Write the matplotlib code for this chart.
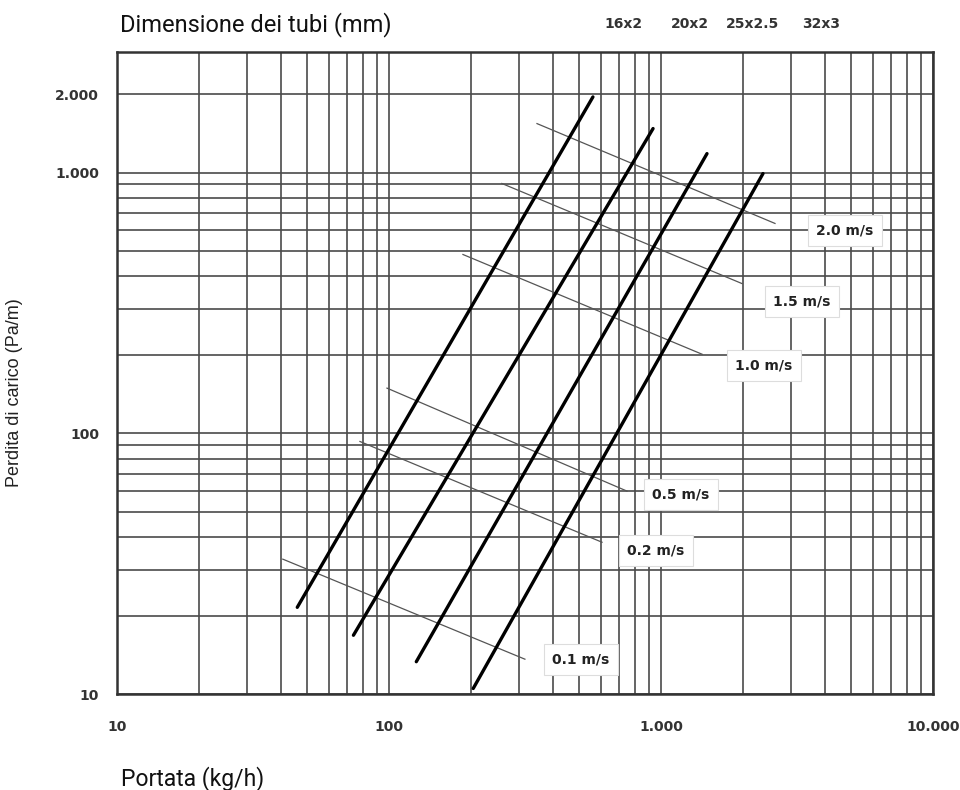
import matplotlib
matplotlib.use("Agg")
import matplotlib.pyplot as plt
from matplotlib.ticker import FuncFormatter, NullFormatter, LogLocator

# pipe curves: flow (kg/h) and pressure loss (Pa/m) at both ends
pipe_sizes = ["16x2", "20x2", "25x2.5", "32x3"]
pipe_flow_start = [46, 74, 126, 204]
pipe_loss_start = [21.5, 16.8, 13.3, 10.5]
pipe_flow_end = [562, 935, 1476, 2371]
pipe_loss_end = [1950, 1475, 1182, 991]
size_label_flow = [731, 1279, 2177, 3873]

# constant velocity lines
velocity_labels = ["0.1 m/s", "0.2 m/s", "0.5 m/s", "1.0 m/s", "1.5 m/s", "2.0 m/s"]
vel_flow_start = [40.7, 78.2, 98.3, 187, 260, 350]
vel_loss_start = [32.9, 93, 149, 485, 908, 1541]
vel_flow_end = [316, 607, 750, 1416, 1987, 2625]
vel_loss_end = [13.6, 38.2, 60, 201, 375, 638]
vel_label_flow = [508, 958, 1184, 2393, 3296, 4742]
vel_label_loss = [13.6, 35.6, 58.4, 182, 321, 600]

x_ticks = [10, 100, 1000, 10000]
y_ticks = [10, 100, 1000, 2000]


def it_thousands(v, pos=None):
    return f"{int(round(v)):,}".replace(",", ".")


fig = plt.figure(figsize=(9.6, 7.9), dpi=100)
ax = fig.add_axes([117 / 960, 1 - 694 / 790, 816 / 960, 642 / 790])

ax.set_xscale("log")
ax.set_yscale("log")
ax.set_xlim(10, 10000)
ax.set_ylim(10, 2900)

ax.xaxis.set_minor_locator(LogLocator(base=10, subs=range(2, 10), numticks=20))
ax.yaxis.set_minor_locator(LogLocator(base=10, subs=range(2, 10), numticks=20))
ax.set_xticks(x_ticks)
ax.set_yticks(y_ticks)
ax.xaxis.set_major_formatter(FuncFormatter(it_thousands))
ax.yaxis.set_major_formatter(FuncFormatter(it_thousands))
ax.xaxis.set_minor_formatter(NullFormatter())
ax.yaxis.set_minor_formatter(NullFormatter())
ax.tick_params(which="both", length=0)
ax.tick_params(axis="x", pad=19)
ax.tick_params(axis="y", pad=13)
for lab in ax.get_xticklabels() + ax.get_yticklabels():
    lab.set_fontweight("bold")
    lab.set_fontsize(10)
    lab.set_color("#333333")

ax.grid(True, which="both", color="#4a4a4a", lw=1.2)
ax.set_axisbelow(True)
for sp in ax.spines.values():
    sp.set_color("#333333")
    sp.set_linewidth(1.8)

for i in range(len(velocity_labels)):
    ax.plot([vel_flow_start[i], vel_flow_end[i]], [vel_loss_start[i], vel_loss_end[i]],
            color="#555555", lw=0.9, zorder=3)
    ax.text(vel_label_flow[i], vel_label_loss[i], velocity_labels[i],
            ha="center", va="center", fontsize=10, fontweight="bold", color="#222222",
            bbox=dict(boxstyle="square,pad=0.6", fc="white", ec="#dddddd", lw=0.8),
            zorder=5)

for i in range(len(pipe_sizes)):
    ax.plot([pipe_flow_start[i], pipe_flow_end[i]], [pipe_loss_start[i], pipe_loss_end[i]],
            color="black", lw=2.4, solid_capstyle="round", zorder=4)
    ax.text(size_label_flow[i], 1.0436, pipe_sizes[i], transform=ax.get_xaxis_transform(),
            ha="center", va="center", fontsize=10, fontweight="bold", color="#333333")

fig.text(120 / 960, 1 - 31 / 790, "Dimensione dei tubi (mm)", fontsize=17,
         family="Roboto", color="#111111", va="baseline", ha="left")
fig.text(121 / 960, 1 - 785 / 790, "Portata (kg/h)", fontsize=16.5,
         family="Roboto", color="#111111", va="baseline", ha="left")
fig.text(15 / 960, 1 - 393 / 790, "Perdita di carico (Pa/m)", fontsize=13,
         family="Liberation Sans", color="#222222", rotation=90, ha="center", va="center")

fig.savefig("out.png", dpi=100)
